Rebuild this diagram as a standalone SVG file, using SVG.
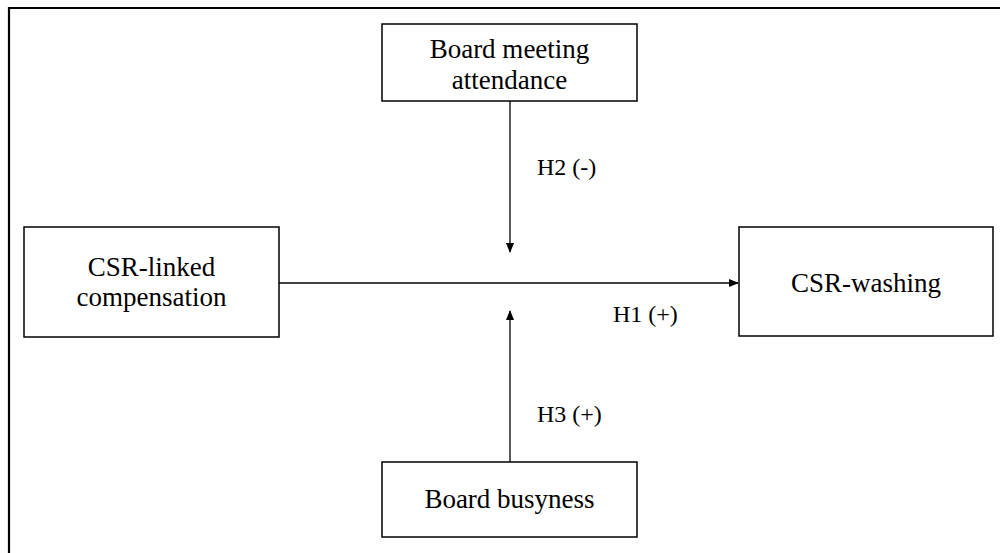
<svg xmlns="http://www.w3.org/2000/svg" width="1000" height="553" viewBox="0 0 1000 553">
<defs>
<style>
.box{fill:#fff;stroke:#000;stroke-width:1.5}
.t{font-family:"Liberation Serif","Times New Roman",serif;font-size:27px;fill:#000;text-anchor:middle}
.l{font-family:"Liberation Serif","Times New Roman",serif;font-size:24px;fill:#000}
.c{stroke:#000;stroke-width:1.3;fill:none}
</style>
<marker id="ah" markerWidth="10" markerHeight="8" refX="9" refY="4" orient="auto" markerUnits="userSpaceOnUse">
<path d="M0,0 L10,4 L0,8 Z" fill="#000"/>
</marker>
</defs>
<rect width="1000" height="553" fill="#fff"/>
<path d="M9,560 L9,8 L1005,8" fill="none" stroke="#000" stroke-width="2.2"/>
<g id="connectors">
<line class="c" x1="279" y1="283" x2="738" y2="283" marker-end="url(#ah)"/>
<line class="c" x1="510" y1="101" x2="510" y2="252" marker-end="url(#ah)"/>
<line class="c" x1="510" y1="462" x2="510" y2="311" marker-end="url(#ah)"/>
<text class="l" x="537" y="175">H2 (-)</text>
<text class="l" x="613" y="322">H1 (+)</text>
<text class="l" x="537" y="422">H3 (+)</text>
</g>
<g id="board-meeting">
<rect class="box" x="382" y="24" width="255" height="77"/>
<text class="t" x="509.5" y="58">Board meeting</text>
<text class="t" x="509.5" y="89">attendance</text>
</g>
<g id="csr-linked">
<rect class="box" x="24" y="227" width="255" height="110"/>
<text class="t" x="151.5" y="276">CSR-linked</text>
<text class="t" x="151.5" y="306">compensation</text>
</g>
<g id="csr-washing">
<rect class="box" x="739" y="227" width="254" height="109"/>
<text class="t" x="866" y="292">CSR-washing</text>
</g>
<g id="board-busyness">
<rect class="box" x="382" y="462" width="255" height="75"/>
<text class="t" x="509.5" y="508">Board busyness</text>
</g>
</svg>
